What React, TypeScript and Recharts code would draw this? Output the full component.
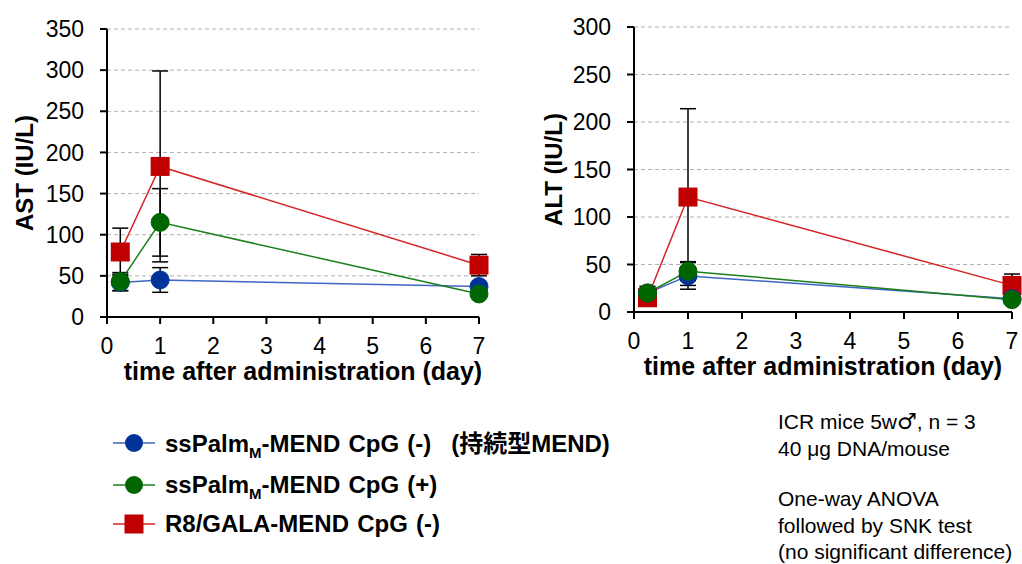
import React from 'react';
import { LineChart, Line, XAxis, YAxis, CartesianGrid, ErrorBar } from 'recharts';

// ---- data ----
const days = [0.25, 1, 7];
const xTicks = [0, 1, 2, 3, 4, 5, 6, 7];

const astBlue = [42, 45, 37];
const astBlueErr = [10, 15, 5];
const astGreen = [43, 115, 28];
const astGreenErr = [11, 41, 3];
const astRed = [79, 183, 63];
const astRedErr = [29, 116, 13];
const astTicks = [0, 50, 100, 150, 200, 250, 300, 350];

const altBlue = [20, 38, 14];
const altBlueErr = [6, 14, 2];
const altGreen = [20, 43, 13];
const altGreenErr = [7, 10, 2];
const altRed = [15, 121, 28];
const altRedErr = [4, 93, 12];
const altTicks = [0, 50, 100, 150, 200, 250, 300];

const legendNames = ['ssPalm', 'ssPalm', 'R8/GALA-MEND CpG (-)'];
const notes = ['ICR mice 5w', '40 μg DNA/mouse', 'One-way ANOVA', 'followed by SNK test', '(no significant difference)'];

// ---- styles ----
const FONT = '"Liberation Sans", Arial, Helvetica, sans-serif';
const BLUE_LINE = '#3f66c4';
const BLUE_DOT = '#003399';
const GREEN_LINE = '#1b7f1b';
const GREEN_DOT = '#006600';
const RED_LINE = '#d42424';
const RED_DOT = '#c00000';

const astData = days.map((d, i) => ({
  day: d,
  blue: astBlue[i], blueErr: astBlueErr[i],
  green: astGreen[i], greenErr: astGreenErr[i],
  red: astRed[i], redErr: astRedErr[i],
}));
const altData = days.map((d, i) => ({
  day: d,
  blue: altBlue[i], blueErr: altBlueErr[i],
  green: altGreen[i], greenErr: altGreenErr[i],
  red: altRed[i], redErr: altRedErr[i],
}));

const SquareDot = (props: any) => {
  const { cx, cy, index } = props;
  if (cx == null || cy == null) return <g key={`sq-${index}`} />;
  return <rect key={`sq-${index}`} x={cx - 9.5} y={cy - 9.5} width={19} height={19} fill={RED_DOT} />;
};

const tickStyle = { fontSize: 23, fill: '#000', fontFamily: FONT };

function Panel(props: {
  data: any[];
  ticks: number[];
  max: number;
  yLabel: string;
  width: number;
  marginTop: number;
  marginRight: number;
  marginBottom: number;
  yAxisWidth: number;
  yLabelOffset: number;
  xLabelDx: number;
}) {
  const p = props;
  return (
    <LineChart
      width={p.width}
      height={400}
      data={p.data}
      margin={{ top: p.marginTop, right: p.marginRight, left: 0, bottom: p.marginBottom }}
    >
      <CartesianGrid vertical={false} stroke="#b0b0b0" strokeDasharray="4 3" strokeWidth={1} />
      <XAxis
        dataKey="day"
        type="number"
        domain={[0, 7]}
        ticks={xTicks}
        interval={0}
        height={63}
        tick={tickStyle}
        tickSize={7}
        tickMargin={14}
        axisLine={{ stroke: '#000', strokeWidth: 2 }}
        tickLine={{ stroke: '#000', strokeWidth: 2 }}
        label={{
          value: 'time after administration (day)',
          position: 'insideBottom',
          offset: 0,
          dx: p.xLabelDx,
          style: { fontSize: 25, fontWeight: 700, fill: '#000', fontFamily: FONT },
        }}
      />
      <YAxis
        type="number"
        domain={[0, p.max]}
        ticks={p.ticks}
        interval={0}
        width={p.yAxisWidth}
        tick={tickStyle}
        tickSize={7}
        tickMargin={16}
        axisLine={{ stroke: '#000', strokeWidth: 2 }}
        tickLine={{ stroke: '#000', strokeWidth: 2 }}
        label={{
          value: p.yLabel,
          angle: -90,
          position: 'insideLeft',
          offset: p.yLabelOffset,
          style: { fontSize: 24, fontWeight: 700, fill: '#000', fontFamily: FONT, textAnchor: 'middle' },
        }}
      />
      <Line
        dataKey="red"
        stroke={RED_LINE}
        strokeWidth={1.5}
        dot={SquareDot}
        activeDot={false}
        isAnimationActive={false}
      >
        <ErrorBar dataKey="redErr" direction="y" width={8} stroke="#000" strokeWidth={1.5} />
      </Line>
      <Line
        dataKey="blue"
        stroke={BLUE_LINE}
        strokeWidth={1.5}
        dot={{ r: 9, fill: BLUE_DOT, stroke: BLUE_DOT, strokeWidth: 1 }}
        activeDot={false}
        isAnimationActive={false}
      >
        <ErrorBar dataKey="blueErr" direction="y" width={8} stroke="#000" strokeWidth={1.5} />
      </Line>
      <Line
        dataKey="green"
        stroke={GREEN_LINE}
        strokeWidth={1.5}
        dot={{ r: 9, fill: GREEN_DOT, stroke: GREEN_DOT, strokeWidth: 1 }}
        activeDot={false}
        isAnimationActive={false}
      >
        <ErrorBar dataKey="greenErr" direction="y" width={8} stroke="#000" strokeWidth={1.5} />
      </Line>
    </LineChart>
  );
}

export default function App() {
  const legendRows = [
    { y: 443, line: BLUE_LINE, dot: BLUE_DOT, shape: 'circle' },
    { y: 485, line: GREEN_LINE, dot: GREEN_DOT, shape: 'circle' },
    { y: 524, line: RED_LINE, dot: RED_DOT, shape: 'square' },
  ];
  const legendBaselines = [452, 493, 532];
  const noteBaselines = [429, 456, 506, 533, 559];
  const legendTextStyle: React.CSSProperties = { fontSize: 24, fontWeight: 700, fontFamily: FONT, wordSpacing: 1.5 };
  return (
    <div style={{ position: 'absolute', left: 0, top: 0, width: 1022, height: 564, background: '#fff', overflow: 'hidden' }}>
      <div style={{ position: 'absolute', left: 0, top: 0 }}>
        <Panel
          data={astData}
          ticks={astTicks}
          max={350}
          yLabel="AST (IU/L)"
          width={500}
          marginTop={29}
          marginRight={21}
          marginBottom={20}
          yAxisWidth={107}
          yLabelOffset={24}
          xLabelDx={10}
        />
      </div>
      <div style={{ position: 'absolute', left: 520, top: 0 }}>
        <Panel
          data={altData}
          ticks={altTicks}
          max={300}
          yLabel="ALT (IU/L)"
          width={502}
          marginTop={27}
          marginRight={10}
          marginBottom={25}
          yAxisWidth={114}
          yLabelOffset={33}
          xLabelDx={0}
        />
      </div>
      <svg width={1022} height={564} style={{ position: 'absolute', left: 0, top: 0, pointerEvents: 'none' }}>
        {legendRows.map((r, i) => (
          <g key={i}>
            <line x1={113} x2={155} y1={r.y} y2={r.y} stroke={r.line} strokeWidth={1.5} />
            {r.shape === 'circle' ? (
              <circle cx={134} cy={r.y} r={9} fill={r.dot} />
            ) : (
              <rect x={124.5} y={r.y - 9.5} width={19} height={19} fill={r.dot} />
            )}
          </g>
        ))}
        <text x={165} y={legendBaselines[0]} style={legendTextStyle} fill="#000">
          {legendNames[0]}
          <tspan fontSize={15} dy={6}>M</tspan>
          <tspan dy={-6}>-MEND CpG (-)</tspan>
          <tspan dx={20} style={{ fontFamily: '"Liberation Sans", "Noto Sans CJK JP", sans-serif', fontSize: 24, wordSpacing: 0 }}>(持続型MEND)</tspan>
        </text>
        <text x={165} y={legendBaselines[1]} style={legendTextStyle} fill="#000">
          {legendNames[1]}
          <tspan fontSize={15} dy={6}>M</tspan>
          <tspan dy={-6}>-MEND CpG (+)</tspan>
        </text>
        <text x={165} y={legendBaselines[2]} style={legendTextStyle} fill="#000">
          {legendNames[2]}
        </text>
        {notes.map((t, i) => (
          <text key={i} x={778} y={noteBaselines[i]} fontSize={21} fontFamily={FONT} fill="#000">
            {t}
            {i === 0 ? (
              <>
                <tspan fontFamily='"DejaVu Sans", sans-serif' fontSize={22} fontWeight={700}>♂</tspan>
                <tspan>, n = 3</tspan>
              </>
            ) : null}
          </text>
        ))}
      </svg>
    </div>
  );
}
